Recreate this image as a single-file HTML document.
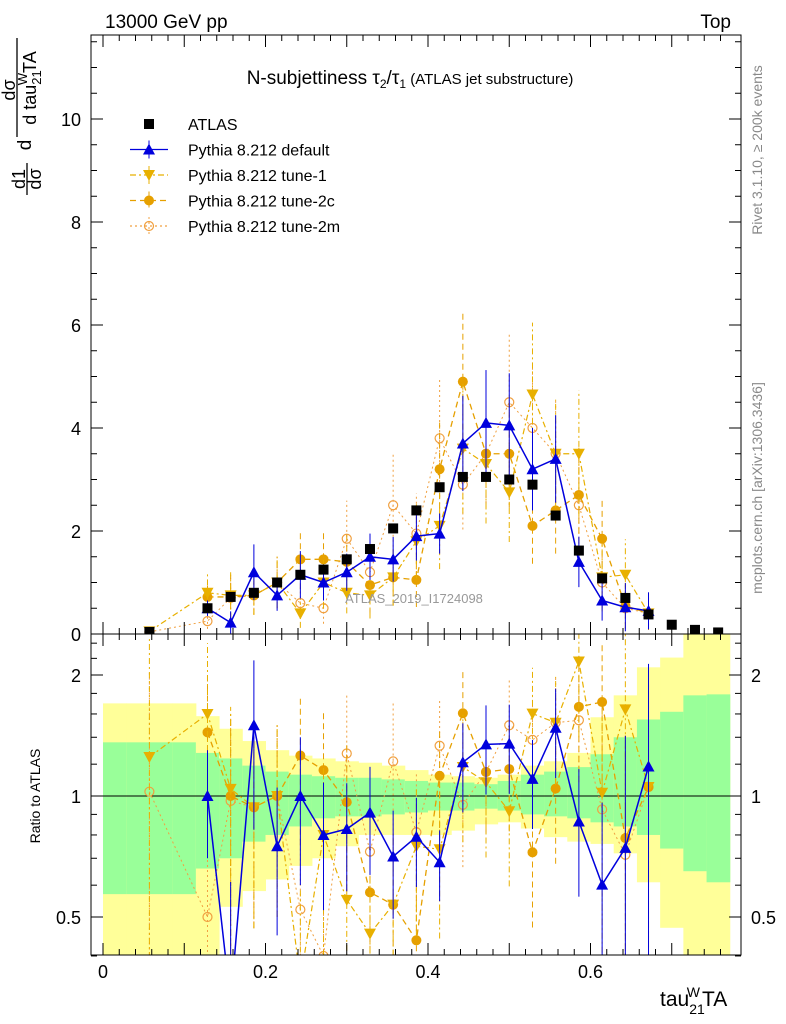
<!DOCTYPE html>
<html><head><meta charset="utf-8"><style>
html,body{margin:0;background:#fff;overflow:hidden;width:786px;height:1024px;}
svg{display:block;font-family:"Liberation Sans",sans-serif;}
</style></head><body>
<svg id="c" width="786" height="1024" viewBox="0 0 786 1024">
<defs>
<clipPath id="cm"><rect x="91" y="35" width="650" height="599"/></clipPath>
<clipPath id="cr"><rect x="91" y="634" width="650" height="321"/></clipPath>
</defs>
<g id="bands" clip-path="url(#cr)"></g>
<g id="main" clip-path="url(#cm)"></g>
<g id="ratio" clip-path="url(#cr)"></g>
<rect x="91" y="35" width="650" height="599" fill="none" stroke="#000" stroke-width="1"/>
<rect x="91" y="634" width="650" height="321" fill="none" stroke="#000" stroke-width="1"/>
<g id="axes"></g>
<text x="105" y="28" font-size="19">13000 GeV pp</text>
<text x="731" y="28" font-size="19" text-anchor="end">Top</text>
<text x="410" y="84" font-size="19" text-anchor="middle">N-subjettiness τ<tspan font-size="12" dy="4">2</tspan><tspan dy="-4">/τ</tspan><tspan font-size="12" dy="4">1</tspan><tspan font-size="15" dy="-4"> (ATLAS jet substructure)</tspan></text>
<text x="414" y="603" font-size="13" fill="#999" text-anchor="middle">ATLAS_2019_I1724098</text>
<text transform="translate(762,150) rotate(-90)" font-size="14" fill="#888" text-anchor="middle">Rivet 3.1.10, ≥ 200k events</text>
<text transform="translate(762,488) rotate(-90)" font-size="14" fill="#888" text-anchor="middle">mcplots.cern.ch [arXiv:1306.3436]</text>
<g font-size="18">
<text transform="translate(25,179) rotate(-90)" text-anchor="middle">d1</text>
<line x1="27" x2="27" y1="163" y2="195" stroke="#000" stroke-width="1.3"/>
<text transform="translate(41,179) rotate(-90)" text-anchor="middle">dσ</text>
<text transform="translate(31,145) rotate(-90)" text-anchor="middle" font-size="19">d</text>
<text transform="translate(15,90) rotate(-90)" text-anchor="middle">dσ</text>
<line x1="17" x2="17" y1="38" y2="137" stroke="#000" stroke-width="1.3"/>
<text transform="translate(36,88) rotate(-90)" text-anchor="middle">d tau<tspan font-size="13" dy="5">21</tspan><tspan font-size="13" dy="-14" dx="-15">W</tspan><tspan dy="9">TA</tspan></text>
</g>
<text transform="translate(40,796) rotate(-90)" font-size="14" text-anchor="middle">Ratio to ATLAS</text>
<text x="660" y="1006" font-size="21">tau<tspan font-size="14" dy="8">21</tspan><tspan font-size="14" dy="-17" dx="-18">W</tspan><tspan dy="9" dx="2">TA</tspan></text>
<g id="legend"></g>
</svg>
<script>
const xs=[0.0571,0.1286,0.1571,0.1857,0.2143,0.2429,0.2714,0.3,0.3286,0.3571,0.3857,0.4143,0.4429,0.4714,0.5,0.5286,0.5571,0.5857,0.6143,0.6429,0.6714,0.7,0.7286,0.7571];
const atlas=[0.04,0.5,0.72,0.8,1.0,1.15,1.25,1.45,1.65,2.05,2.4,2.85,3.05,3.05,3.0,2.9,2.3,1.62,1.08,0.7,0.38,0.18,0.08,0.03];
const pyDef=[null,0.5,0.22,1.2,0.75,1.15,1.0,1.2,1.5,1.45,1.9,1.95,3.7,4.1,4.05,3.2,3.4,1.4,0.65,0.52,0.45];
const pyT1=[0.05,0.8,0.75,0.75,1.0,0.4,1.0,0.8,0.75,1.1,1.8,2.1,3.6,3.3,2.75,4.65,3.5,3.5,1.1,1.15,0.4];
const pyT2c=[null,0.72,0.72,0.75,1.0,1.45,1.45,1.4,0.95,1.1,1.05,3.2,4.9,3.5,3.5,2.1,2.4,2.7,1.85,0.55,0.4];
const pyT2m=[0.041,0.25,0.7,0.75,1.0,0.6,0.5,1.85,1.2,2.5,1.95,3.8,2.9,3.5,4.5,4.0,3.5,2.5,1.0,0.5,0.4];
const errDef=[0,0.3,1,0.45,0.4,0.4,0.35,0.3,0.3,0.3,0.25,0.2,0.25,0.25,0.25,0.25,0.25,0.35,0.6,0.9,0.8];
const errT1=[1,0.5,0.6,0.5,0.5,0.7,0.5,0.5,0.6,0.5,0.4,0.4,0.35,0.35,0.35,0.3,0.3,0.35,0.6,0.6,0.8];
const errT2c=[0,0.4,0.6,0.5,0.5,0.4,0.4,0.4,0.6,0.5,0.5,0.3,0.27,0.3,0.3,0.35,0.35,0.35,0.4,0.8,0.8];
const errT2m=[1,0.6,0.6,0.5,0.5,0.5,0.6,0.4,0.5,0.4,0.4,0.3,0.3,0.3,0.3,0.3,0.3,0.3,0.5,0.8,0.8];
const bandYTop=[1.70,1.70,1.70,1.70,1.58,1.47,1.37,1.30,1.26,1.24,1.22,1.21,1.19,1.16,1.13,1.12,1.11,1.13,1.19,1.22,1.28,1.57,1.78,2.09,2.21,2.6,2.6];
const bandGTop=[1.36,1.36,1.36,1.36,1.28,1.24,1.19,1.15,1.13,1.12,1.11,1.11,1.10,1.09,1.08,1.08,1.07,1.09,1.13,1.15,1.18,1.27,1.40,1.55,1.62,1.78,1.79];
const bandGBot=[0.57,0.57,0.57,0.57,0.66,0.70,0.77,0.80,0.84,0.88,0.89,0.89,0.90,0.91,0.92,0.92,0.93,0.92,0.90,0.89,0.88,0.86,0.84,0.80,0.74,0.65,0.61];
const bandYBot=[0.38,0.38,0.38,0.38,0.38,0.53,0.58,0.62,0.67,0.70,0.75,0.80,0.80,0.80,0.80,0.82,0.85,0.86,0.83,0.79,0.77,0.76,0.72,0.61,0.47,0.38,0.38];
const binW=1/35;
const xTicks=[0,0.2,0.4,0.6];
const yTicks=[0,2,4,6,8,10];
const rTicks=[0.5,1,2];

const NS="http://www.w3.org/2000/svg";
const X=v=>103+v*812.5;
const Y=v=>634-v*51.5;
const R=v=>796-121*Math.log2(v);
function mk(tag,at,parent){const e=document.createElementNS(NS,tag);for(const k in at)e.setAttribute(k,at[k]);parent.appendChild(e);return e;}
const main=document.getElementById('main'),ratio=document.getElementById('ratio'),bands=document.getElementById('bands'),axes=document.getElementById('axes'),legend=document.getElementById('legend');

for(let i=0;i<bandYTop.length;i++){
  const x0=X(i*binW),w=X((i+1)*binW)-x0+0.5;
  const y=mk('rect',{x:x0,y:R(bandYTop[i]),width:w,height:R(bandYBot[i])-R(bandYTop[i]),fill:'#ffff99'},bands);
  
  
  const g=mk('rect',{x:x0,y:R(bandGTop[i]),width:w,height:R(bandGBot[i])-R(bandGTop[i]),fill:'#99ff99'},bands);
  
  
}
const one=mk('line',{x1:91,x2:741,y1:R(1),y2:R(1),stroke:'#000','stroke-width':1},ratio);



for(let v=0;v<=0.78;v+=0.02){
  const big=Math.abs(v*10-Math.round(v*10))<1e-6;const L=big?12:6;
  [[634,-1],[955,-1],[35,1],[634,1]].forEach(([yy,d])=>mk('line',{x1:X(v),x2:X(v),y1:yy,y2:yy+d*L,stroke:'#000'},axes));
}
xTicks.forEach(v=>{const t=mk('text',{x:X(v),y:978,'font-size':18,'text-anchor':'middle'},axes);t.textContent=v===0?'0':v.toFixed(1);

});
for(let v=0;v<=11.5;v+=0.5){const big=v%2===0;const L=big?12:6;if(Y(v)<35)continue;
  mk('line',{x1:91,x2:91+L,y1:Y(v),y2:Y(v),stroke:'#000'},axes);mk('line',{x1:741,x2:741-L,y1:Y(v),y2:Y(v),stroke:'#000'},axes);}
yTicks.forEach(v=>{const t=mk('text',{x:81,y:Y(v)+7,'font-size':18,'text-anchor':'end'},axes);t.textContent=v;

});
[0.4,0.5,0.6,0.7,0.8,0.9,1,1.2,1.4,1.6,1.8,2,2.2,2.4].forEach(v=>{const big=rTicks.includes(v);const L=big?12:6;
  mk('line',{x1:91,x2:91+L,y1:R(v),y2:R(v),stroke:'#000'},axes);mk('line',{x1:741,x2:741-L,y1:R(v),y2:R(v),stroke:'#000'},axes);});
rTicks.forEach(v=>{[[81,'end'],[751,'start']].forEach(([x,a])=>{const t=mk('text',{x:x,y:R(v)+7,'font-size':18,'text-anchor':a},axes);t.textContent=v;

});});

function marker(par,type,x,y,col){
  if(type==='sq')return mk('rect',{x:x-5,y:y-5,width:10,height:10,fill:'#000'},par);
  if(type==='up')return mk('polygon',{points:`${x},${y-6} ${x-6},${y+5} ${x+6},${y+5}`,fill:col},par);
  if(type==='dn')return mk('polygon',{points:`${x},${y+6} ${x-6},${y-5} ${x+6},${y-5}`,fill:col},par);
  if(type==='fc')return mk('circle',{cx:x,cy:y,r:5,fill:col},par);
  return mk('circle',{cx:x,cy:y,r:4.5,fill:'none',stroke:col,'stroke-width':1.2},par);
}
const series=[
 {name:'pythia-tune-2m',vals:pyT2m,err:errT2m,col:'#f0a040',dash:'2,3',m:'oc',w:1},
 {name:'pythia-tune-2c',vals:pyT2c,err:errT2c,col:'#e6a000',dash:'6,4',m:'fc',w:1.3},
 {name:'pythia-tune-1',vals:pyT1,err:errT1,col:'#e8b000',dash:'6,3,2,3',m:'dn',w:1.2},
 {name:'pythia-default',vals:pyDef,err:errDef,col:'#0000dd',dash:'',m:'up',w:1.5},
];
series.forEach(s=>{
  [[main,v=>Y(v),(v,i)=>v],[ratio,v=>R(Math.max(v,0.05)),(v,i)=>v/atlas[i]]].forEach(([par,fy,tr])=>{
    const g=mk('g',{},par);
    
    
    let pts=[];
    s.vals.forEach((v,i)=>{if(v==null)return;const val=tr(v,i);const x=X(xs[i]);
      const lo=val*(1-Math.min(s.err[i],0.95)),hi=val*(1+s.err[i]);
      mk('line',{x1:x,x2:x,y1:fy(lo),y2:fy(hi),stroke:s.col,'stroke-width':1,'stroke-dasharray':s.dash},g);
      pts.push(x+','+fy(val));});
    mk('polyline',{points:pts.join(' '),fill:'none',stroke:s.col,'stroke-width':s.w,'stroke-dasharray':s.dash},g);
    s.vals.forEach((v,i)=>{if(v==null)return;const p=marker(g,s.m,X(xs[i]),fy(tr(v,i)),s.col);
      
      });
  });
});
atlas.forEach((v,i)=>{const p=marker(main,'sq',X(xs[i]),Y(v));
  
  });

const L=[['sq','#000','','ATLAS'],['up','#0000dd','','Pythia 8.212 default'],['dn','#e8b000','6,3,2,3','Pythia 8.212 tune-1'],['fc','#e6a000','6,4','Pythia 8.212 tune-2c'],['oc','#f0a040','2,3','Pythia 8.212 tune-2m']];
L.forEach((e,i)=>{const y=124+i*25.5;const g=mk('g',{},legend);
  
  
  if(i>0){mk('line',{x1:130,x2:168,y1:y,y2:y,stroke:e[1],'stroke-width':1.3,'stroke-dasharray':e[2]},g);
    mk('line',{x1:149,x2:149,y1:y-9,y2:y+9,stroke:e[1],'stroke-width':1,'stroke-dasharray':e[2]},g);}
  marker(g,e[0],149,y,e[1]);
  const t=mk('text',{x:188,y:y+6,'font-size':16},g);t.textContent=e[3];});
</script>
</body></html>
